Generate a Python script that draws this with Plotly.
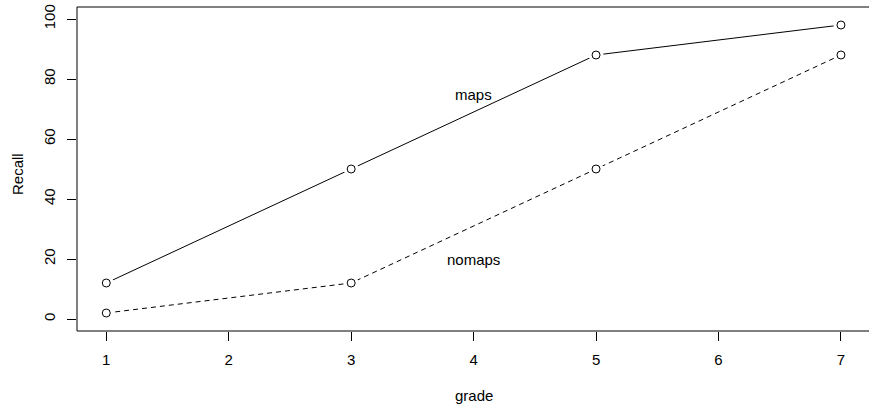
import plotly.graph_objects as go

grade = [1, 3, 5, 7]
maps = [12, 50, 88, 98]
nomaps = [2, 12, 50, 88]
x_ticks = [1, 2, 3, 4, 5, 6, 7]
y_ticks = [0, 20, 40, 60, 80, 100]
labels = [("maps", 4, 75), ("nomaps", 4, 20)]

FONT = "Liberation Sans, Arial, sans-serif"
FS = 15
fig = go.Figure()

for ys, dash in [(maps, "solid"), (nomaps, "5px,4px")]:
    fig.add_trace(go.Scatter(x=grade, y=ys, mode="lines",
                             line=dict(color="black", width=1, dash=dash),
                             showlegend=False, hoverinfo="skip"))
    fig.add_trace(go.Scatter(x=grade, y=ys, mode="markers",
                             marker=dict(symbol="circle", size=15, color="white",
                                         line=dict(width=0)),
                             showlegend=False, hoverinfo="skip"))
    fig.add_trace(go.Scatter(x=grade, y=ys, mode="markers",
                             marker=dict(symbol="circle-open", size=8, color="black",
                                         line=dict(width=1, color="black")),
                             showlegend=False))

for txt, xv, yv in labels:
    fig.add_annotation(x=xv, y=yv, text=txt, showarrow=False,
                       font=dict(family=FONT, size=FS, color="black"))

# box (right edge lies outside the image)
for x0, y0, x1, y1 in [(0, 0, 1.01, 0), (0, 1, 1.01, 1), (0, 0, 0, 1)]:
    fig.add_shape(type="line", xref="paper", yref="paper", x0=x0, y0=y0, x1=x1, y1=y1,
                  line=dict(color="black", width=1))

fig.add_annotation(xref="paper", yref="paper", x=(473.6 - 77) / 792, y=-(395 - 331) / 324,
                   text="grade", showarrow=False, yanchor="middle",
                   font=dict(family=FONT, size=FS, color="black"))
fig.add_annotation(xref="paper", yref="paper", x=-(77 - 17) / 792, y=(331 - 174) / 324,
                   text="Recall", showarrow=False, textangle=-90, xanchor="center",
                   font=dict(family=FONT, size=FS, color="black"))

fig.update_xaxes(range=[0.761, 7.229], tickvals=x_ticks, ticktext=[str(v) for v in x_ticks],
                 ticks="outside", ticklen=9, tickcolor="black", tickwidth=1,
                 showgrid=False, zeroline=False, showline=False, automargin=False,
                 tickfont=dict(family=FONT, size=FS, color="black"),
                 ticklabelstandoff=6)
fig.update_yaxes(range=[-4, 104], tickvals=y_ticks, ticktext=[str(v) for v in y_ticks],
                 ticks="outside", ticklen=9, tickcolor="black", tickwidth=1,
                 tickangle=-90, automargin=False,
                 showgrid=False, zeroline=False, showline=False,
                 tickfont=dict(family=FONT, size=FS, color="black"),
                 ticklabelstandoff=6)

fig.update_layout(width=869, height=404, margin=dict(l=77, r=0, t=7, b=73),
                  plot_bgcolor="white", paper_bgcolor="white")

fig.write_html("out.html", config={"displayModeBar": False},
               post_script="document.body.style.margin='0px';document.body.style.overflow='hidden';")
